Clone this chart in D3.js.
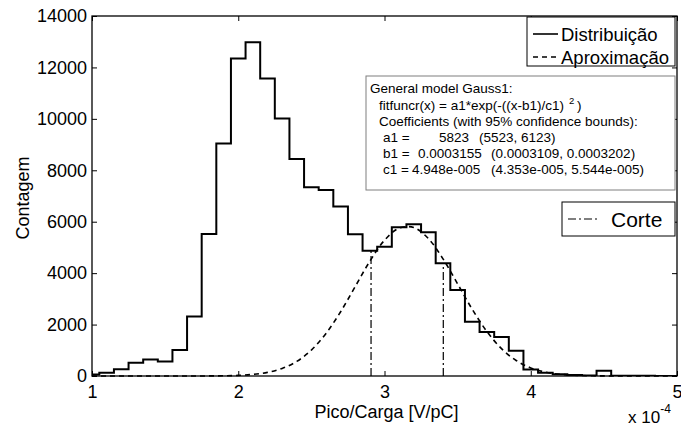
<!DOCTYPE html>
<html>
<head>
<meta charset="utf-8">
<script src="https://cdn.jsdelivr.net/npm/d3@7"></script>
<style>
  html, body { margin: 0; padding: 0; background: #fff; }
  svg { display: block; font-family: "Liberation Sans", Arial, Helvetica, sans-serif; }
</style>
</head>
<body>
<svg id="chart" width="681" height="428"></svg>
<script>
// ---- data (x in units of 1e-4 V/pC) ----
const binCenters = [1.0,1.1,1.2,1.3,1.4,1.5,1.6,1.7,1.8,1.9,2.0,2.1,2.2,2.3,2.4,2.5,2.6,2.7,2.8,2.9,
                    3.0,3.1,3.2,3.3,3.4,3.5,3.6,3.7,3.8,3.9,4.0,4.1,4.2,4.3,4.4,4.5,4.6,4.7,4.8,4.9,5.0];
const binCounts  = [60,130,260,520,640,560,1010,2310,5520,9040,12350,12980,11570,10010,8440,7340,7230,6590,5510,4870,
                    5030,5780,5900,5590,4380,3340,2110,1710,1520,985,250,130,65,40,20,205,10,5,5,3,2];
const binWidth = 0.1;
const fitX = [1.0,1.1,1.2,1.3,1.4,1.5,1.6,1.7,1.8,1.9,2.0,2.1,2.2,2.3,2.4,2.5,2.6,2.7,2.8,2.9,
              3.0,3.1,3.2,3.3,3.4,3.5,3.6,3.7,3.8,3.9,4.0,4.1,4.2,4.3,4.4,4.5,4.6,4.7,4.8,4.9,5.0];
const fitY = [0,0,0,0,0,0.1,0.3,1,3,9,25,62,140,294,567,1009,1655,2500,3480,4465,
              5279,5751,5775,5344,4557,3581,2593,1731,1065,603,315,152,67,28,10,4,1,0,0,0,0];
const cutX = [2.908, 3.402];
const xTicks = [1,2,3,4,5];
const yTicks = [0,2000,4000,6000,8000,10000,12000,14000];
const legendLabels = ["Distribuição", "Aproximação"];
const cutLabel = "Corte";
const xLabel = "Pico/Carga [V/pC]";
const yLabel = "Contagem";
const fitText = [
  ["General model Gauss1:"],
  ["fitfuncr(x) =  a1*exp(-((x-b1)/c1)", "2", ")"],
  ["Coefficients (with 95% confidence bounds):"],
  ["a1 =", "5823", "(5523, 6123)"],
  ["b1 =", "0.0003155", "(0.0003109, 0.0003202)"],
  ["c1 =", "4.948e-005", "(4.353e-005, 5.544e-005)"]
];

// ---- layout ----
const L = 92, T = 16, R = 677, B = 376;
const svg = d3.select("#chart");
const x = d3.scaleLinear().domain([1, 5]).range([L, R]);
const y = d3.scaleLinear().domain([0, 14000]).range([B, T]);

svg.append("defs").append("clipPath").attr("id", "clip")
  .append("rect").attr("x", L).attr("y", T).attr("width", R - L).attr("height", B - T);

// axes
const fs = 18;
const gx = svg.append("g").attr("transform", `translate(0,${B})`)
  .call(d3.axisBottom(x).tickValues(xTicks).tickFormat(d3.format("d")).tickSize(-5).tickPadding(9));
const gxt = svg.append("g").attr("transform", `translate(0,${T})`)
  .call(d3.axisTop(x).tickValues(xTicks).tickFormat("").tickSize(-5));
const gy = svg.append("g").attr("transform", `translate(${L},0)`)
  .call(d3.axisLeft(y).tickValues(yTicks).tickFormat(d3.format("d")).tickSize(-5).tickPadding(5));
const gyr = svg.append("g").attr("transform", `translate(${R},0)`)
  .call(d3.axisRight(y).tickValues(yTicks).tickFormat("").tickSize(-5));
[gx, gxt, gy, gyr].forEach(g => {
  g.select(".domain").remove();
  g.selectAll("line").attr("stroke", "#000").attr("stroke-width", 1);
  g.selectAll("text").attr("fill", "#000").attr("font-size", fs)
    .attr("font-family", "Liberation Sans, Arial, sans-serif");
});

// histogram stairs
const stairPts = binCenters.map((c, i) => [Math.max(1, c - binWidth / 2), binCounts[i]]);
stairPts.push([5, binCounts[binCounts.length - 1]]);
svg.append("path")
  .attr("clip-path", "url(#clip)")
  .attr("d", d3.line().x(d => x(d[0])).y(d => y(d[1])).curve(d3.curveStepAfter)(stairPts))
  .attr("fill", "none").attr("stroke", "#000").attr("stroke-width", 2);

// fit curve
svg.append("path")
  .attr("d", d3.line().x((d, i) => x(fitX[i])).y(d => y(d)).curve(d3.curveCatmullRom)(fitY))
  .attr("fill", "none").attr("stroke", "#000").attr("stroke-width", 1.6)
  .attr("stroke-dasharray", "5,4");

// cut lines (up to histogram value)
cutX.forEach(cx => {
  const idx = Math.round((cx - binCenters[0]) / binWidth);
  svg.append("line")
    .attr("x1", x(cx)).attr("x2", x(cx)).attr("y1", y(0)).attr("y2", y(binCounts[idx]))
    .attr("stroke", "#000").attr("stroke-width", 1.2)
    .attr("stroke-dasharray", "8,3,2,3");
});

// frame
svg.append("rect").attr("x", L).attr("y", T).attr("width", R - L).attr("height", B - T)
  .attr("fill", "none").attr("stroke", "#000").attr("stroke-width", 1.3);

// axis labels
svg.append("text").attr("x", x(3) + 2).attr("y", 418).attr("text-anchor", "middle")
  .attr("font-size", fs).text(xLabel);
svg.append("text").attr("transform", "translate(29,198) rotate(-90)").attr("text-anchor", "middle")
  .attr("font-size", fs).text(yLabel);
const expo = svg.append("text").attr("x", 628).attr("y", 423).attr("font-size", 17);
expo.append("tspan").text("x 10");
expo.append("tspan").attr("dy", -10).attr("font-size", 12).text("-4");

// legend (top right)
const lg = svg.append("g");
lg.append("rect").attr("x", 527).attr("y", 17).attr("width", 148).attr("height", 49)
  .attr("fill", "#fff").attr("stroke", "#000").attr("stroke-width", 1);
const legendRows = [34, 57];
legendRows.forEach((ry, i) => {
  lg.append("line").attr("x1", 533).attr("x2", 558).attr("y1", ry).attr("y2", ry)
    .attr("stroke", "#000").attr("stroke-width", 1.6)
    .attr("stroke-dasharray", i === 1 ? "5,4" : null);
  lg.append("text").attr("x", 561).attr("y", ry + 7).attr("font-size", 18.5).text(legendLabels[i]);
});

// fit-result text box
const tb = svg.append("g");
tb.append("rect").attr("x", 366).attr("y", 76).attr("width", 309).attr("height", 114)
  .attr("fill", "#fff").attr("stroke", "#7f7f7f").attr("stroke-width", 1);
const tbFs = 13.5;
const lineY = [93, 110, 126, 142, 158, 174];
const pieceX = [[370], [379, 569, 577], [379], [383, 439, 479], [383, 418, 491], [383, 412, 491]];
fitText.forEach((pieces, li) => {
  pieces.forEach((p, pi) => {
    const t = tb.append("text").attr("x", pieceX[li][pi]).attr("y", lineY[li]).attr("font-size", tbFs).text(p);
    if (li === 1 && pi === 1) t.attr("y", lineY[li] - 6).attr("font-size", 9.5);
  });
});

// cut legend
const cg = svg.append("g");
cg.append("rect").attr("x", 562).attr("y", 202).attr("width", 113).attr("height", 34)
  .attr("fill", "#fff").attr("stroke", "#000").attr("stroke-width", 1);
cg.append("line").attr("x1", 568).attr("x2", 598).attr("y1", 219).attr("y2", 219)
  .attr("stroke", "#000").attr("stroke-width", 1.2).attr("stroke-dasharray", "8,3,2,3");
cg.append("text").attr("x", 611).attr("y", 227).attr("font-size", 21).text(cutLabel);
</script>
</body>
</html>
